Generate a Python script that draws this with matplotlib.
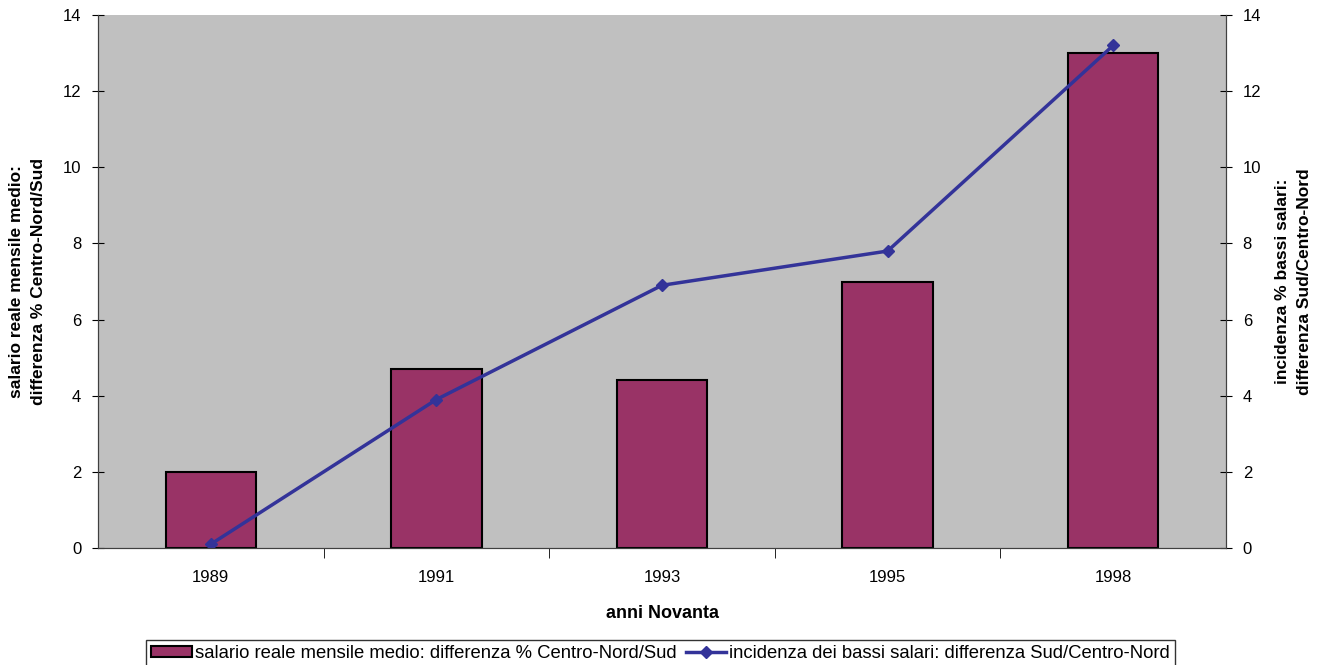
import matplotlib.pyplot as plt
import numpy as np

plt.rcParams['font.family'] = ['Liberation Sans', 'DejaVu Sans']

anni = ['1989', '1991', '1993', '1995', '1998']
salario = [2.0, 4.7, 4.4, 7.0, 13.0]
bassi_salari = [0.1, 3.9, 6.9, 7.8, 13.2]

bar_col = '#993366'
line_col = '#333399'

fig = plt.figure(figsize=(13.21, 6.65), dpi=100)
ax = fig.add_axes([98 / 1321, 1 - 548 / 665, 1128 / 1321, 533 / 665])
ax.set_facecolor('#C0C0C0')

x = np.arange(len(anni))
bars = ax.bar(x, salario, width=0.4, color=bar_col, edgecolor='black', linewidth=1.5,
              label='salario reale mensile medio: differenza % Centro-Nord/Sud')
ax.set_xlim(-0.5, len(anni) - 0.5)
ax.set_ylim(0, 14)
ax.set_yticks(range(0, 15, 2))

ax2 = ax.twinx()
ln, = ax2.plot(x, bassi_salari, color=line_col, lw=2.5, marker='D', markersize=6,
               label='incidenza dei bassi salari: differenza Sud/Centro-Nord')
ax2.set_ylim(0, 14)
ax2.set_yticks(range(0, 15, 2))

# x ticks: labels at centres, tick marks between categories
ax.set_xticks(x)
ax.set_xticklabels(anni, fontsize=12)
ax.tick_params(axis='x', length=0, pad=16)
ax.set_xticks(np.arange(0.5, len(anni) - 0.5, 1), minor=True)
ax.tick_params(axis='x', which='minor', length=7, direction='out', color='black')
ax.tick_params(axis='y', direction='inout', length=8, labelsize=12, pad=8)
ax2.tick_params(axis='y', direction='inout', length=8, labelsize=12, pad=8)

for a in (ax, ax2):
    a.spines['top'].set_visible(False)
    a.spines['left'].set_color('#404040')
    a.spines['right'].set_color('#404040')
    a.spines['bottom'].set_color('#404040')

ax.set_xlabel('anni Novanta', fontsize=13, fontweight='bold', labelpad=14)
ax.set_ylabel('salario reale mensile medio:\ndifferenza % Centro-Nord/Sud',
              fontsize=12.5, fontweight='bold', labelpad=12, linespacing=1.55)
ax2.set_ylabel('incidenza % bassi salari:\ndifferenza Sud/Centro-Nord',
               fontsize=12.5, fontweight='bold', rotation=90, labelpad=10, linespacing=1.55)

leg = fig.legend([bars, ln], [bars.get_label(), ln.get_label()], loc='lower center',
                 bbox_to_anchor=(0.5, -0.004), ncol=2, frameon=True, fancybox=False,
                 fontsize=13.3, handlelength=2.2, handleheight=0.6, handletextpad=0.15,
                 columnspacing=0.5, borderpad=0.3, borderaxespad=0.0, edgecolor='black')
leg.get_frame().set_linewidth(1.0)

fig.savefig('out.png', dpi=100)
